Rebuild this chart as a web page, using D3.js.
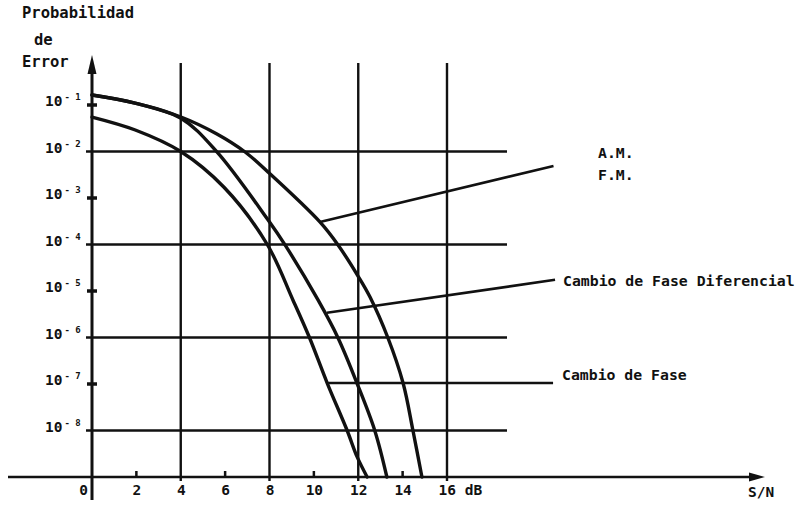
<!DOCTYPE html>
<html>
<head>
<meta charset="utf-8">
<script src="https://cdn.jsdelivr.net/npm/d3@7/dist/d3.min.js"></script>
<style>
  body { margin: 0; background: #fff; }
  svg { display: block; background: #fff; }
  text { font-family: "DejaVu Sans Mono", monospace; font-weight: bold; fill: #111; }
</style>
</head>
<body>
<svg id="chart" width="810" height="506"></svg>
<script>
// curve readings: S/N (dB) and error probability
const faseDb = [0, 1.95, 4.0, 5.95, 7.9, 9.05, 9.8, 10.6, 11.5, 11.95, 12.4];
const faseP  = [0.055, 0.029, 0.01, 1.7e-3, 1e-4, 6.5e-6, 1e-6, 1.05e-7, 1e-8, 2.7e-9, 1e-9];

const difDb = [0, 1.94, 4.01, 5.63, 7.93, 8.7, 10.18, 11.09, 11.94, 12.75, 13.29];
const difP  = [0.164, 0.110, 0.052, 9.8e-3, 3.4e-4, 9.8e-5, 6.5e-6, 9.8e-7, 1.05e-7, 9.8e-9, 1e-9];

const amfmDb = [0, 1.94, 4.01, 5.63, 6.9, 7.93, 10.27, 11.09, 11.99, 12.53, 13.34, 14.02, 14.47, 14.87];
const amfmP  = [0.164, 0.110, 0.0552, 0.0238, 9.76e-3, 3.62e-3, 3.05e-4, 9.75e-5, 2.1e-5, 7.43e-6, 9.75e-7, 1.05e-7, 9.75e-9, 1e-9];

const gridDb = [4, 8, 12, 16];
const minorDb = [2, 6, 10, 14];
const xTickValues = [0, 2, 4, 6, 8, 10, 12, 14, 16];
const gridP = [1e-2, 1e-4, 1e-6, 1e-8];
const minorP = [1e-1, 1e-3, 1e-5, 1e-7];
const yTickValues = [1e-1, 1e-2, 1e-3, 1e-4, 1e-5, 1e-6, 1e-7, 1e-8];

// leader lines [from dB, from P, to dB, to P]
const leaderAmfm = [10.27, 3.05e-4, 20.8, 4.9e-3];
const leaderDif = [10.59, 3.4e-6, 20.87, 1.74e-5];
const leaderFase = [10.6, 1.05e-7, 20.78, 1.05e-7];

const svg = d3.select('#chart');
const x = d3.scaleLinear().domain([0, 16]).range([92, 447]);
const y = d3.scaleLog().domain([1e-9, 1]).range([477, 58.5]);
const x0 = x(0), yBase = y(1e-9);

// grid
svg.append('g').selectAll('line.vgrid')
  .data(gridDb).enter().append('line')
    .attr('x1', d => x(d)).attr('x2', d => x(d))
    .attr('y1', 63).attr('y2', yBase + 4)
    .attr('stroke', '#111').attr('stroke-width', 2.4);

svg.append('g').selectAll('line.hgrid')
  .data(gridP).enter().append('line')
    .attr('x1', x0 - 6).attr('x2', 507)
    .attr('y1', d => y(d)).attr('y2', d => y(d))
    .attr('stroke', '#111').attr('stroke-width', 2.4);

// minor ticks
svg.append('g').selectAll('line.ytick')
  .data(minorP).enter().append('line')
    .attr('x1', x0 - 5).attr('x2', x0 + 5)
    .attr('y1', d => y(d)).attr('y2', d => y(d))
    .attr('stroke', '#111').attr('stroke-width', 3.5);

svg.append('g').selectAll('line.xtick')
  .data(minorDb).enter().append('line')
    .attr('x1', d => x(d)).attr('x2', d => x(d))
    .attr('y1', yBase - 6).attr('y2', yBase)
    .attr('stroke', '#111').attr('stroke-width', 2.5);

// axes
svg.append('line')
  .attr('x1', x0).attr('x2', x0).attr('y1', 500).attr('y2', 66)
  .attr('stroke', '#111').attr('stroke-width', 3);
svg.append('path')
  .attr('d', `M${x0},55 L${x0 - 4.5},74 L${x0 + 4.5},74 Z`)
  .attr('fill', '#111');

svg.append('line')
  .attr('x1', 8).attr('x2', 752).attr('y1', yBase).attr('y2', yBase)
  .attr('stroke', '#111').attr('stroke-width', 2.6);
svg.append('path')
  .attr('d', `M765,${yBase} L749,${yBase - 4.5} L749,${yBase + 4.5} Z`)
  .attr('fill', '#111');

// x tick labels
const xAxis = svg.append('g')
  .attr('transform', `translate(0,${yBase})`)
  .call(d3.axisBottom(x).tickValues(xTickValues).tickSize(0).tickPadding(8)
    .tickFormat(d => d));
xAxis.select('.domain').remove();
xAxis.selectAll('text')
  .attr('font-family', null).attr('font-size', null)
  .style('font-size', '14.5px')
  .attr('dx', d => d === 0 ? -9 : 0);
xAxis.selectAll('.tick').filter(d => d === 16).select('text')
  .attr('text-anchor', 'start').attr('dx', -9)
  .text('16 dB');

// y tick labels with superscript exponent
const yLab = svg.append('g').selectAll('text.ylab')
  .data(yTickValues).enter().append('text')
    .attr('x', 45)
    .attr('y', d => y(d) + 1)
    .style('font-size', '14.5px');
yLab.append('tspan').text('10');
yLab.append('tspan')
  .attr('dx', 2).attr('dy', -6)
  .style('font-size', '9px')
  .text(d => '- ' + Math.round(-Math.log10(d)));

// curves
const line = d3.line()
  .x(d => x(d[0]))
  .y(d => y(d[1]))
  .curve(d3.curveCatmullRom.alpha(0.5));

const series = [
  d3.zip(faseDb, faseP),
  d3.zip(difDb, difP),
  d3.zip(amfmDb, amfmP)
];
svg.append('g').selectAll('path.curve')
  .data(series).enter().append('path')
    .attr('d', line)
    .attr('fill', 'none')
    .attr('stroke', '#111')
    .attr('stroke-width', 3.4)
    .attr('stroke-linecap', 'round');

// leaders
svg.append('g').selectAll('line.leader')
  .data([leaderAmfm, leaderDif, leaderFase]).enter().append('line')
    .attr('x1', d => x(d[0])).attr('y1', d => y(d[1]))
    .attr('x2', d => x(d[2])).attr('y2', d => y(d[3]))
    .attr('stroke', '#111').attr('stroke-width', 2.6);

// labels
const labels = [
  { t: 'A.M.', x: 598, y: 158, s: 14.8 },
  { t: 'F.M.', x: 598, y: 180, s: 14.8 },
  { t: 'Cambio de Fase Diferencial', x: 563, y: 286, s: 14.8 },
  { t: 'Cambio de Fase', x: 562, y: 380, s: 14.8 },
  { t: 'S/N', x: 748, y: 497, s: 14.5 },
  { t: 'Probabilidad', x: 22, y: 18, s: 15.5 },
  { t: 'de', x: 34, y: 45, s: 15.5 },
  { t: 'Error', x: 22, y: 67, s: 15.5 }
];
svg.append('g').selectAll('text.lbl')
  .data(labels).enter().append('text')
    .attr('x', d => d.x).attr('y', d => d.y)
    .style('font-size', d => d.s + 'px')
    .text(d => d.t);
</script>
</body>
</html>
